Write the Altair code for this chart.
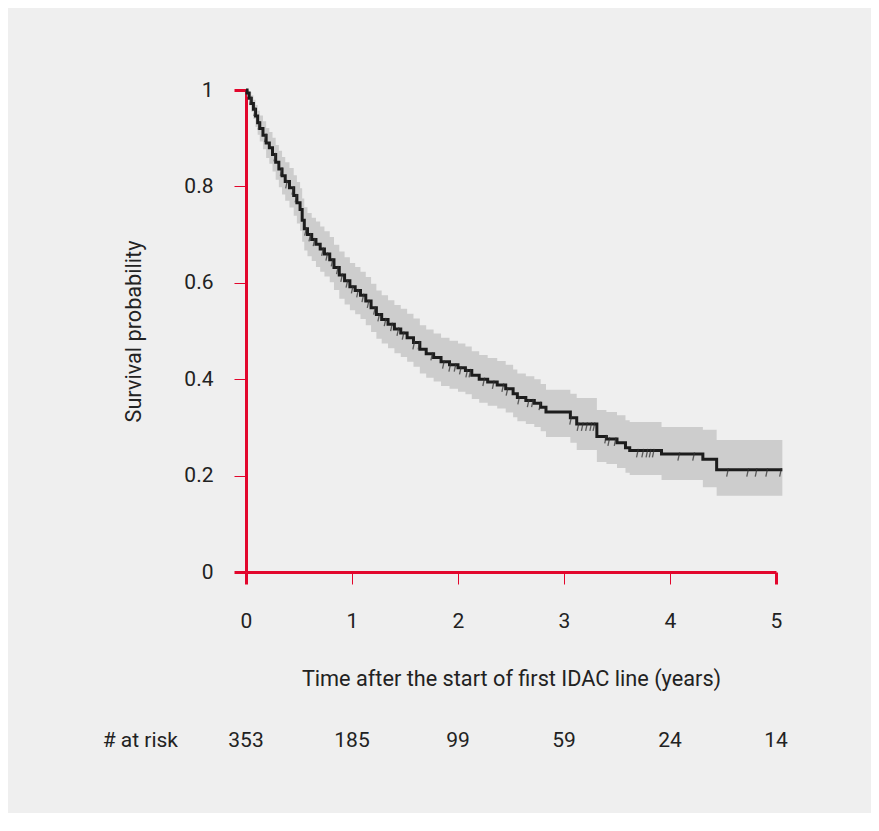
import altair as alt
import numpy as np
import pandas as pd

# ---- data ----
times = [0, 0.01, 0.03, 0.05, 0.07, 0.09, 0.11, 0.13, 0.16, 0.19, 0.22, 0.25, 0.28, 0.31, 0.34, 0.37,
         0.41, 0.45, 0.48, 0.51, 0.53, 0.55, 0.58, 0.62, 0.66, 0.70, 0.74, 0.79, 0.83, 0.88, 0.93, 0.98,
         1.03, 1.08, 1.13, 1.18, 1.23, 1.28, 1.34, 1.40, 1.46, 1.52, 1.58, 1.64, 1.70, 1.77, 1.84, 1.92,
         2.00, 2.07, 2.13, 2.20, 2.28, 2.37, 2.45, 2.52, 2.56, 2.64, 2.72, 2.78, 2.83, 3.06, 3.12, 3.31,
         3.40, 3.50, 3.58, 3.62, 3.92, 4.31, 4.44, 5.06]
surv = [1.000, 0.994, 0.983, 0.972, 0.960, 0.946, 0.932, 0.920, 0.906, 0.890, 0.880, 0.866, 0.850, 0.836, 0.822, 0.810,
        0.797, 0.781, 0.766, 0.752, 0.730, 0.712, 0.700, 0.690, 0.680, 0.670, 0.660, 0.648, 0.632, 0.616, 0.604, 0.592,
        0.584, 0.574, 0.562, 0.548, 0.534, 0.524, 0.514, 0.504, 0.496, 0.486, 0.476, 0.462, 0.453, 0.445, 0.436, 0.430,
        0.424, 0.418, 0.408, 0.400, 0.394, 0.388, 0.380, 0.370, 0.362, 0.356, 0.350, 0.342, 0.332, 0.320, 0.307, 0.281,
        0.276, 0.268, 0.258, 0.252, 0.245, 0.234, 0.212, 0.212]
upper = [1.000, 1.000, 0.996, 0.989, 0.980, 0.969, 0.957, 0.947, 0.935, 0.921, 0.913, 0.901, 0.886, 0.874, 0.861, 0.850,
         0.838, 0.823, 0.809, 0.796, 0.775, 0.757, 0.745, 0.735, 0.727, 0.717, 0.707, 0.695, 0.679, 0.665, 0.653, 0.641,
         0.633, 0.623, 0.612, 0.598, 0.584, 0.574, 0.564, 0.554, 0.546, 0.536, 0.526, 0.512, 0.503, 0.495, 0.486, 0.480,
         0.474, 0.468, 0.458, 0.450, 0.444, 0.438, 0.430, 0.420, 0.412, 0.406, 0.400, 0.390, 0.378, 0.370, 0.361, 0.336,
         0.332, 0.325, 0.315, 0.311, 0.301, 0.295, 0.274, 0.274]
lower = [1.000, 0.986, 0.970, 0.955, 0.940, 0.923, 0.907, 0.893, 0.877, 0.859, 0.847, 0.831, 0.814, 0.798, 0.783, 0.770,
         0.756, 0.739, 0.723, 0.708, 0.685, 0.667, 0.655, 0.645, 0.633, 0.623, 0.613, 0.601, 0.585, 0.567, 0.555, 0.543,
         0.535, 0.525, 0.512, 0.498, 0.484, 0.474, 0.464, 0.454, 0.446, 0.436, 0.426, 0.412, 0.403, 0.395, 0.386, 0.380,
         0.374, 0.369, 0.359, 0.351, 0.345, 0.339, 0.331, 0.321, 0.313, 0.307, 0.301, 0.292, 0.280, 0.268, 0.253, 0.228,
         0.224, 0.216, 0.206, 0.201, 0.191, 0.176, 0.158, 0.158]
censor_times = [0.04, 0.08, 0.12, 0.18, 0.27, 0.33, 0.38, 0.44, 0.47, 0.56, 0.60, 0.64, 0.72, 0.76, 0.81, 0.86,
                0.90, 0.95, 1.00, 1.05, 1.10, 1.15, 1.21, 1.25, 1.31, 1.37, 1.43, 1.48, 1.58, 1.63, 1.75, 1.86,
                1.92, 1.97, 2.02, 2.08, 2.11, 2.24, 2.33, 2.42, 2.46, 2.57, 2.66, 2.70, 2.77, 3.06, 3.13, 3.17,
                3.21, 3.25, 3.28, 3.39, 3.42, 3.48, 3.69, 3.74, 3.78, 3.81, 3.84, 4.08, 4.22, 4.54, 4.73, 4.81,
                4.91, 5.04]
risk_times = [0, 1, 2, 3, 4, 5]
risk_counts = [353, 185, 99, 59, 24, 14]
x_ticks = [0, 1, 2, 3, 4, 5]
y_ticks = [0, 0.2, 0.4, 0.6, 0.8, 1]

RED = "#e2062c"
TXT = "#222222"
FONT = "Roboto"
FS = 21
TFS = 21.7

km = pd.DataFrame({"t": times, "surv": surv, "upper": upper, "lower": lower})
idx = np.searchsorted(np.array(times), np.array(censor_times), side="right") - 1
cens = pd.DataFrame({"t": censor_times, "surv": np.array(surv)[idx]})
risk = pd.DataFrame({"t": risk_times, "n": [str(n) for n in risk_counts]})
risk_label = pd.DataFrame({"label": ["# at risk"]})

x_axis = alt.Axis(
    values=x_ticks, format="~g", grid=False, title="Time after the start of first IDAC line (years)",
    domainColor=RED, domainWidth=3, tickColor=RED, tickSize=12,
    tickWidth={"condition": {"test": "datum.value === 0 || datum.value === 5", "value": 3}, "value": 1},
    labelFont=FONT, labelFontSize=FS, labelColor=TXT, labelBaseline="alphabetic", labelPadding=43,
    labelFlush=False, labelOverlap=False,
    titleFont=FONT, titleFontSize=TFS, titleFontWeight="normal", titleColor=TXT,
    titleX=265, titleY=113, titleBaseline="alphabetic", titleAlign="center",
)
y_axis = alt.Axis(
    values=y_ticks, format="~g", grid=False, title="Survival probability",
    domainColor=RED, domainWidth=3, tickColor=RED, tickSize=12,
    tickWidth={"condition": {"test": "datum.value === 0 || datum.value === 1", "value": 3}, "value": 1},
    labelFont=FONT, labelFontSize=FS, labelColor=TXT, labelPadding=21, labelFlush=False, labelOverlap=False,
    titleFont=FONT, titleFontSize=TFS, titleFontWeight="normal", titleColor=TXT,
    titleX=-106, titleY=241, titleBaseline="alphabetic", titleAlign="center",
)
xs = alt.Scale(domain=[0, 5], nice=False, zero=False)
ys = alt.Scale(domain=[0, 1], nice=False)

band = alt.Chart(km).mark_area(interpolate="step-after", color="#cdcdcd", clip=False).encode(
    x=alt.X("t:Q", scale=xs, axis=x_axis),
    y=alt.Y("lower:Q", scale=ys, axis=y_axis),
    y2="upper:Q",
)
line = alt.Chart(km).mark_line(interpolate="step-after", color="#1c1c1c", strokeWidth=3, clip=False).encode(
    x=alt.X("t:Q", scale=xs, axis=x_axis),
    y=alt.Y("surv:Q", scale=ys, axis=y_axis),
)
marks = alt.Chart(cens).mark_point(
    shape="M0.3,-0.4L-0.15,1.7", filled=False, stroke="#333333", strokeWidth=1.3, opacity=0.75, size=64, clip=False
).encode(
    x=alt.X("t:Q", scale=xs, axis=x_axis),
    y=alt.Y("surv:Q", scale=ys, axis=y_axis),
)
risk_text = alt.Chart(risk).mark_text(
    font=FONT, fontSize=FS, color=TXT, baseline="alphabetic", align="center", clip=False
).encode(
    x=alt.X("t:Q", scale=xs, axis=x_axis),
    y=alt.value(657),
    text="n:N",
)
risk_head = alt.Chart(risk_label).mark_text(
    font=FONT, fontSize=FS, color=TXT, baseline="alphabetic", align="right", clip=False
).encode(
    x=alt.value(-68),
    y=alt.value(657),
    text="label:N",
)

chart = alt.layer(band, line, marks, risk_text, risk_head).properties(
    width=530,
    height=482,
    autosize="none",
    padding={"left": 238, "top": 82, "right": 95, "bottom": 241},
    background="#efefef",
).configure_view(strokeWidth=0)

chart.save("out.html", embed_options={"renderer": "svg", "actions": False})
